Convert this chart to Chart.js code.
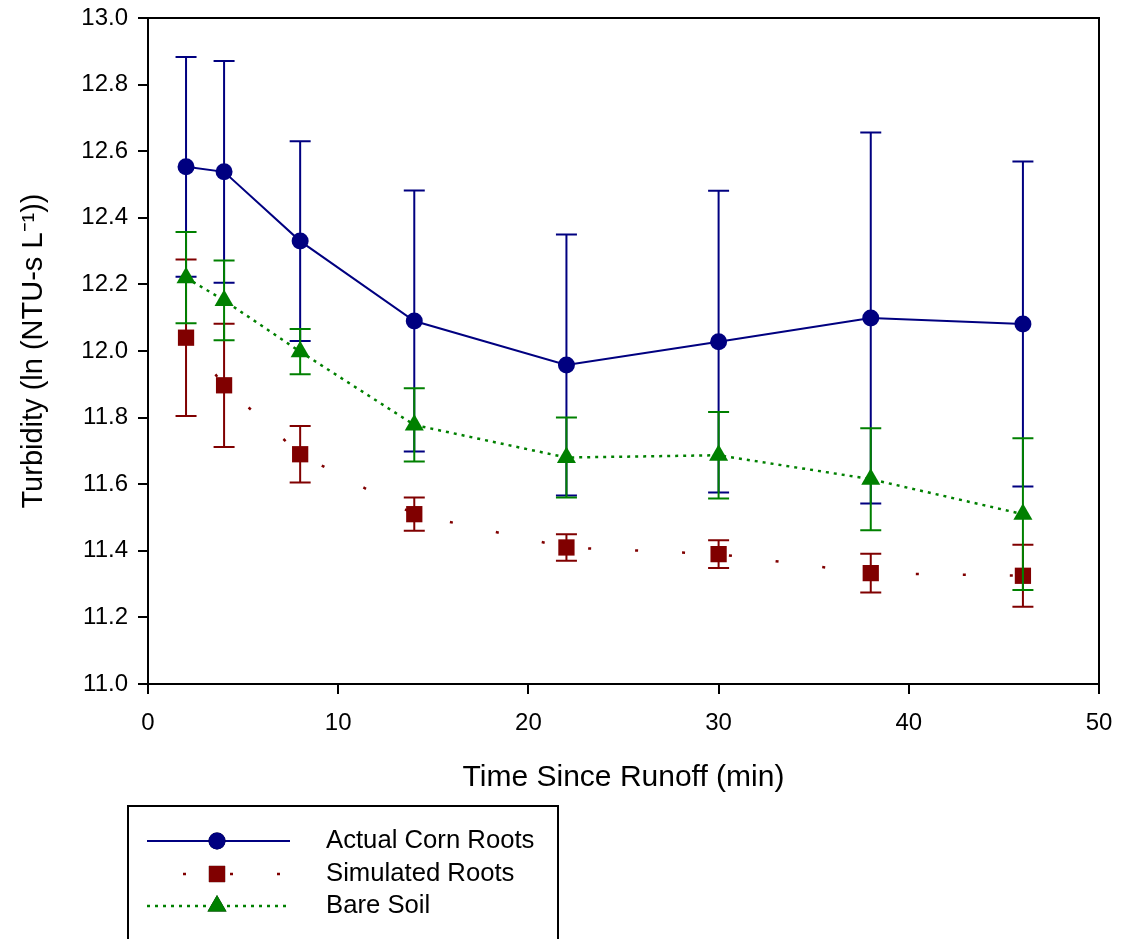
<!DOCTYPE html>
<html>
<head>
<meta charset="utf-8">
<script src="https://cdn.jsdelivr.net/npm/chart.js@4"></script>
<style>
  html, body { margin: 0; padding: 0; background: #fff; }
  #wrap { width: 1121px; height: 939px; }
</style>
</head>
<body>
<div id="wrap"><canvas id="myChart" width="1121" height="939"></canvas></div>
<script>
// time since runoff (min)
const times = [2, 4, 8, 14, 22, 30, 38, 46];

// ln turbidity means and error bar half-widths
const cornMeans = [12.553, 12.538, 12.330, 12.090, 11.958, 12.028, 12.099, 12.081];
const cornErr   = [0.330, 0.333, 0.300, 0.392, 0.392, 0.453, 0.557, 0.488];

const simMeans = [12.040, 11.897, 11.690, 11.510, 11.410, 11.390, 11.333, 11.325];
const simErr   = [0.235, 0.185, 0.085, 0.050, 0.040, 0.042, 0.058, 0.093];

const bareMeans = [12.220, 12.152, 11.998, 11.778, 11.680, 11.687, 11.615, 11.510];
const bareErr   = [0.137, 0.120, 0.068, 0.110, 0.120, 0.130, 0.153, 0.228];

const seriesNames = ['Actual Corn Roots', 'Simulated Roots', 'Bare Soil'];
const xTicks = [0, 10, 20, 30, 40, 50];
const yTicks = [11.0, 11.2, 11.4, 11.6, 11.8, 12.0, 12.2, 12.4, 12.6, 12.8, 13.0];

const FONT = 'Liberation Sans, Arial, Helvetica, sans-serif';
const toPoints = (means) => times.map((t, i) => ({ x: t, y: means[i] }));

// error bars, drawn per dataset just before the dataset itself
const errorBars = {
    id: 'errorBars',
    beforeDatasetDraw(chart, args) {
        const ds = chart.data.datasets[args.index];
        if (!ds.errors) return;
        const { ctx, scales: { x, y } } = chart;
        ctx.save();
        ctx.strokeStyle = ds.borderColor;
        ctx.lineWidth = 2;
        ctx.setLineDash([]);
        ds.data.forEach((p, i) => {
            const px = x.getPixelForValue(p.x);
            const top = y.getPixelForValue(p.y + ds.errors[i]);
            const bot = y.getPixelForValue(p.y - ds.errors[i]);
            ctx.beginPath();
            ctx.moveTo(px, top); ctx.lineTo(px, bot);
            ctx.moveTo(px - 10.5, top); ctx.lineTo(px + 10.5, top);
            ctx.moveTo(px - 10.5, bot); ctx.lineTo(px + 10.5, bot);
            ctx.stroke();
        });
        ctx.restore();
    }
};

// top/right frame lines and the boxed legend under the plot
const frameAndLegend = {
    id: 'frameAndLegend',
    afterDraw(chart) {
        const { ctx, chartArea: a } = chart;
        ctx.save();
        ctx.strokeStyle = '#000';
        ctx.lineWidth = 2;
        ctx.beginPath();
        ctx.moveTo(a.left, a.top); ctx.lineTo(a.right, a.top); ctx.lineTo(a.right, a.bottom);
        ctx.stroke();

        // legend box (runs off the bottom of the page)
        ctx.strokeRect(128, 806, 430, 200);
        const rows = [841, 874, 906];
        chart.data.datasets.forEach((ds, i) => {
            const yy = rows[i];
            ctx.strokeStyle = ds.borderColor;
            ctx.lineWidth = ds.borderWidth;
            ctx.setLineDash(ds.borderDash || []);
            ctx.lineDashOffset = ds.legendDashOffset || 0;
            ctx.beginPath();
            ctx.moveTo(147, yy); ctx.lineTo(290, yy);
            ctx.stroke();
            ctx.setLineDash([]);
            Chart.helpers.drawPoint(ctx, {
                pointStyle: ds.pointStyle,
                radius: ds.pointRadius,
                borderWidth: 0
            }, 217, yy);
            ctx.fillStyle = ds.backgroundColor;
            ctx.fill();
            ctx.fillStyle = '#000';
            ctx.font = '25.7px ' + FONT;
            ctx.textBaseline = 'middle';
            ctx.textAlign = 'left';
            ctx.fillText(ds.label, 326, yy);
        });
        ctx.restore();
    }
};

const ctx = document.getElementById('myChart').getContext('2d');
const myChart = new Chart(ctx, {
    type: 'line',
    data: {
        datasets: [
            {
                label: seriesNames[0],
                data: toPoints(cornMeans),
                errors: cornErr,
                borderColor: '#000080',
                backgroundColor: '#000080',
                borderWidth: 2,
                pointStyle: 'circle',
                pointRadius: 8.5,
                pointBorderWidth: 0,
                order: 3
            },
            {
                label: seriesNames[1],
                data: toPoints(simMeans),
                errors: simErr,
                borderColor: '#800000',
                backgroundColor: '#800000',
                borderWidth: 2.5,
                borderDash: [3, 44],
                legendDashOffset: 11,
                pointStyle: 'rect',
                pointRadius: 11.5,
                pointBorderWidth: 0,
                order: 2
            },
            {
                label: seriesNames[2],
                data: toPoints(bareMeans),
                errors: bareErr,
                borderColor: '#008000',
                backgroundColor: '#008000',
                borderWidth: 2.5,
                borderDash: [3, 5],
                pointStyle: 'triangle',
                pointRadius: 11,
                pointBorderWidth: 0,
                order: 1
            }
        ]
    },
    options: {
        responsive: false,
        animation: false,
        layout: { padding: { left: 17, top: 18, right: 22, bottom: 143 } },
        plugins: {
            legend: { display: false },
            tooltip: { enabled: false }
        },
        scales: {
            x: {
                type: 'linear',
                min: 0,
                max: 50,
                afterBuildTicks: (s) => { s.ticks = xTicks.map(v => ({ value: v })); },
                afterFit: (s) => { s.height = 112; },
                grid: { drawOnChartArea: false, drawTicks: true, tickLength: 10, color: '#000', lineWidth: 2 },
                border: { display: true, color: '#000', width: 2 },
                ticks: { color: '#000', padding: 6, font: { family: FONT, size: 24, lineHeight: 1.95 } },
                title: {
                    display: true,
                    text: 'Time Since Runoff (min)',
                    color: '#000',
                    padding: 0,
                    font: { family: FONT, size: 30 }
                }
            },
            y: {
                type: 'linear',
                min: 11,
                max: 13,
                afterBuildTicks: (s) => { s.ticks = yTicks.map(v => ({ value: v })); },
                afterFit: (s) => { s.width = 131; },
                grid: { drawOnChartArea: false, drawTicks: true, tickLength: 10, color: '#000', lineWidth: 2 },
                border: { display: true, color: '#000', width: 2 },
                ticks: {
                    color: '#000',
                    padding: 10,
                    font: { family: FONT, size: 24, lineHeight: 0.5 },
                    callback: (v) => Number(v).toFixed(1)
                },
                title: {
                    display: true,
                    text: 'Turbidity (ln (NTU-s L\u207B\u00B9))',
                    color: '#000',
                    padding: 0,
                    font: { family: FONT, size: 29 }
                }
            }
        }
    },
    plugins: [errorBars, frameAndLegend]
});

// nudge the right padding so the plot frame lands where the original's does
for (let k = 0; k < 2; k++) {
    const diff = myChart.chartArea.right - 1099;
    if (Math.abs(diff) < 0.5) break;
    myChart.config.options.layout.padding.right += diff;
    myChart.update();
}
</script>
</body>
</html>
